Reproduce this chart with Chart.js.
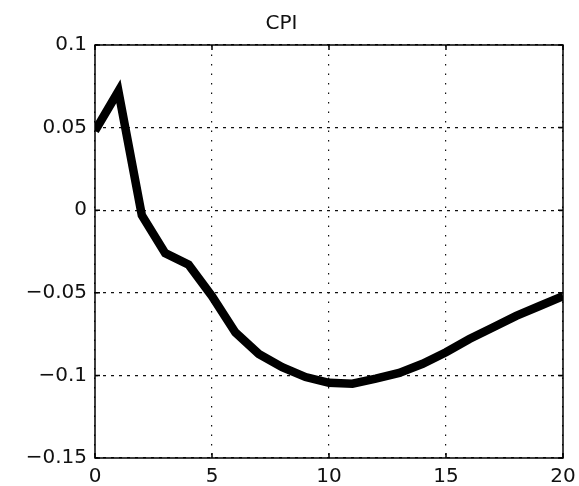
<!DOCTYPE html>
<html>
<head>
<meta charset="utf-8">
<script src="https://cdn.jsdelivr.net/npm/chart.js"></script>
<style>
  html, body { margin: 0; padding: 0; background: #fff; }
  #wrap { width: 579px; height: 486px; }
</style>
</head>
<body>
<div id="wrap"><canvas id="cpi"></canvas></div>
<script>
// horizon (periods) and CPI response
const periods = [0, 1, 2, 3, 4, 5, 6, 7, 8, 9, 10, 11, 12, 13, 14, 15, 16, 17, 18, 19, 20];
const cpi = [0.048, 0.072, -0.003, -0.026, -0.033, -0.052, -0.074, -0.087, -0.095, -0.101,
             -0.1045, -0.105, -0.102, -0.0985, -0.093, -0.086, -0.078, -0.071, -0.064, -0.058, -0.052];
const xTicks = [0, 5, 10, 15, 20];
const yTicks = [0.1, 0.05, 0, -0.05, -0.1, -0.15];
const yTickLabels = ["0.1", "0.05", "0", "\u22120.05", "\u22120.1", "\u22120.15"];

const FONT = "'DejaVu Sans', 'Liberation Sans', Arial, sans-serif";

// box round the axes with small ticks pointing inside, like matlab
const axesBox = {
    id: "axesBox",
    afterDraw(chart) {
        const { ctx, chartArea: a, scales } = chart;
        ctx.save();
        ctx.strokeStyle = "#000";
        ctx.lineWidth = 1.5;
        ctx.strokeRect(a.left, a.top, a.right - a.left, a.bottom - a.top);
        ctx.beginPath();
        xTicks.forEach(v => {
            const px = scales.x.getPixelForValue(v);
            ctx.moveTo(px, a.bottom); ctx.lineTo(px, a.bottom - 5);
            ctx.moveTo(px, a.top); ctx.lineTo(px, a.top + 5);
        });
        yTicks.forEach(v => {
            const py = scales.y.getPixelForValue(v);
            ctx.moveTo(a.left, py); ctx.lineTo(a.left + 5, py);
            ctx.moveTo(a.right, py); ctx.lineTo(a.right - 5, py);
        });
        ctx.stroke();
        ctx.restore();
    }
};

new Chart(document.getElementById("cpi"), {
    type: "line",
    data: {
        labels: periods,
        datasets: [{
            data: periods.map((p, i) => ({ x: p, y: cpi[i] })),
            borderColor: "#000",
            borderWidth: 8.5,
            borderJoinStyle: "miter",
            borderCapStyle: "butt",
            pointRadius: 0,
            tension: 0,
            fill: false,
            clip: 0
        }]
    },
    options: {
        responsive: true,
        maintainAspectRatio: false,
        animation: false,
        layout: { padding: { left: 0, right: 16, top: 0, bottom: 0 } },
        plugins: {
            legend: { display: false },
            tooltip: { enabled: false },
            title: {
                display: true,
                text: "CPI",
                color: "#111",
                font: { family: FONT, size: 20, weight: "normal", lineHeight: 1.2 },
                padding: { top: 12, bottom: 9 }
            }
        },
        scales: {
            x: {
                type: "linear",
                min: 0,
                max: 20,
                afterBuildTicks(scale) { scale.ticks = xTicks.map(v => ({ value: v })); },
                afterFit(scale) {
                    scale.height = 28;
                    scale.paddingLeft = 0;
                    scale.paddingRight = 0;
                },
                grid: { color: "#111", lineWidth: 1.2, drawTicks: false },
                border: { display: false, dash: [1.5, 8] },
                ticks: {
                    color: "#111",
                    autoSkip: false,
                    maxRotation: 0,
                    padding: 7,
                    font: { family: FONT, size: 20 }
                }
            },
            y: {
                min: -0.15,
                max: 0.1,
                afterBuildTicks(scale) { scale.ticks = yTicks.map(v => ({ value: v })); },
                afterFit(scale) { scale.width = 95; },
                grid: { color: "#111", lineWidth: 1.2, drawTicks: false },
                border: { display: false, dash: [3, 5] },
                ticks: {
                    color: "#111",
                    padding: 8,
                    font: { family: FONT, size: 20 },
                    callback(value) {
                        const i = yTicks.findIndex(t => Math.abs(t - value) < 1e-9);
                        return i >= 0 ? yTickLabels[i] : "";
                    }
                }
            }
        }
    },
    plugins: [axesBox]
});
</script>
</body>
</html>
